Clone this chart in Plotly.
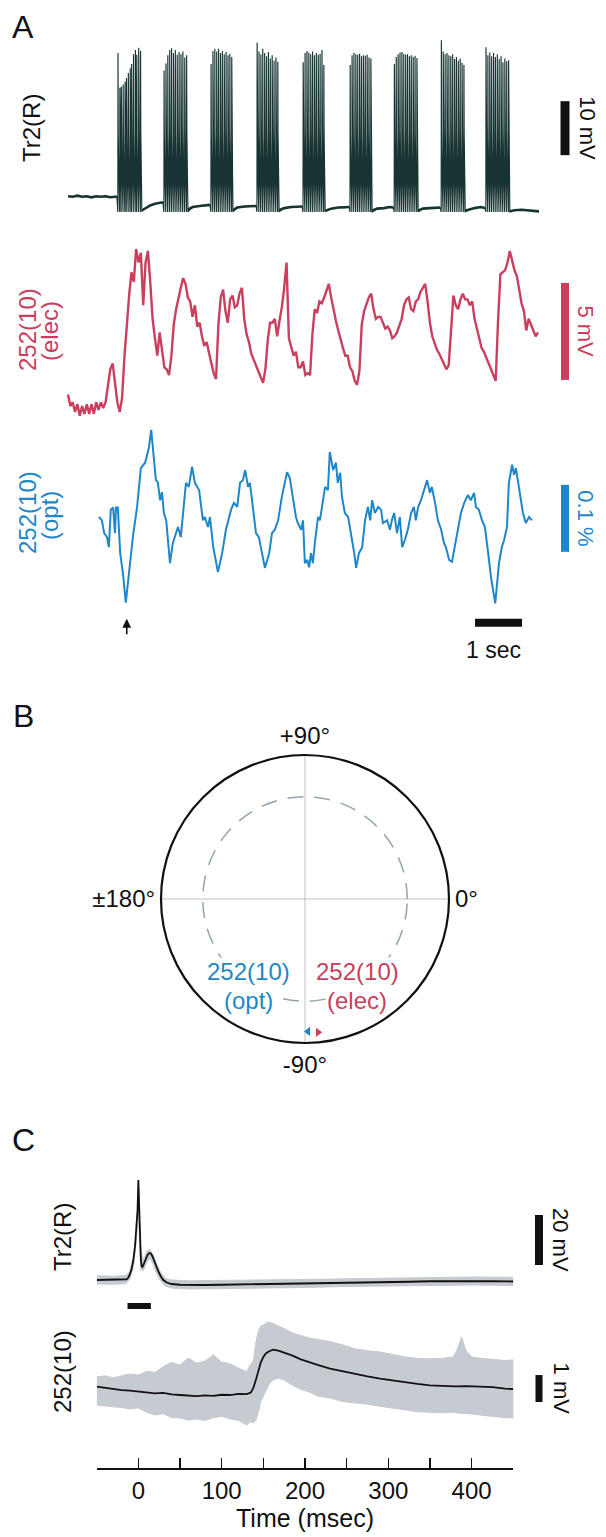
import numpy as np
import plotly.graph_objects as go

W, H = 606, 1537
FONT = "Liberation Sans, Arial, Helvetica, sans-serif"
BLACK = "#111111"
TRACE_BLACK = "#173433"
RED = "#c8405e"
BLUE = "#1f86c8"
GRAY = "#c6cbd1"

# ======================= DATA =======================
# ---- Panel A : Tr2(R) intracellular (mV), bursts of spikes ----
BURST_SPIKE_T = [
    [1.06, 1.10, 1.13, 1.17, 1.21, 1.24, 1.28, 1.32, 1.35, 1.39, 1.43, 1.46, 1.50, 1.54],
    [2.04, 2.08, 2.12, 2.16, 2.20, 2.24, 2.28, 2.32, 2.36, 2.40, 2.44, 2.48, 2.52],
    [3.04, 3.08, 3.12, 3.16, 3.20, 3.24, 3.28, 3.32, 3.36, 3.40, 3.44, 3.48],
    [4.02, 4.06, 4.10, 4.14, 4.18, 4.22, 4.26, 4.30, 4.34, 4.38, 4.42, 4.46],
    [5.00, 5.04, 5.08, 5.12, 5.16, 5.20, 5.24, 5.28, 5.32, 5.36, 5.40, 5.44],
    [6.00, 6.04, 6.08, 6.12, 6.16, 6.20, 6.24, 6.28, 6.32, 6.36, 6.40, 6.44],
    [6.94, 6.98, 7.02, 7.06, 7.10, 7.14, 7.18, 7.22, 7.26, 7.30, 7.34, 7.38, 7.42],
    [7.94, 7.98, 8.02, 8.06, 8.10, 8.14, 8.18, 8.22, 8.26, 8.30, 8.34, 8.38, 8.42],
    [8.89, 8.93, 8.97, 9.01, 9.05, 9.09, 9.13, 9.17, 9.21, 9.25, 9.29, 9.33, 9.37],
]
BURST_SPIKE_PEAK = [
    [27.2, 20.8, 21.0, 21.4, 21.9, 22.6, 23.5, 24.4, 25.2, 27.0, 27.8, 26.9, 28.2, 27.6],
    [24.0, 25.3, 26.8, 27.8, 28.1, 27.2, 27.8, 26.9, 27.4, 27.0, 27.5, 26.4, 26.8],
    [25.2, 27.6, 28.0, 27.5, 28.0, 27.2, 27.6, 27.0, 27.4, 26.8, 27.1, 26.5],
    [29.1, 27.5, 27.0, 28.0, 27.2, 26.6, 27.4, 26.2, 26.8, 25.8, 26.4, 25.6],
    [25.5, 27.2, 27.6, 27.3, 27.0, 27.5, 26.8, 27.2, 26.9, 27.1, 27.8, 25.0],
    [25.0, 26.8, 27.2, 27.0, 26.9, 27.1, 26.6, 26.8, 26.7, 26.9, 26.4, 26.2],
    [25.2, 26.5, 27.0, 27.3, 27.4, 27.1, 26.9, 27.0, 26.6, 26.8, 26.5, 26.7, 26.3],
    [29.6, 27.5, 27.0, 27.2, 26.8, 26.6, 27.0, 26.1, 26.5, 25.8, 26.2, 25.4, 25.0],
    [28.3, 26.8, 27.3, 26.6, 27.2, 26.5, 27.0, 26.1, 26.6, 25.5, 26.2, 25.7, 25.9],
]
SPIKE_TROUGH_MV = -2.2       # trough between spikes
SPIKE_SHOULDER_MV = 12.5     # fast repolarisation level after each spike
SPIKE_AHP_MID_MV = 4.0       # intermediate point of the slow decay
BASE_T = [0.00, 0.10, 0.20, 0.30, 0.40, 0.50, 0.60, 0.70, 0.80, 0.90, 1.00, 1.04,
          1.58, 1.65, 1.75, 1.85, 1.95, 2.02,
          2.55, 2.65, 2.80, 2.95, 3.02,
          3.51, 3.60, 3.75, 3.90, 4.00,
          4.49, 4.60, 4.75, 4.90, 4.98,
          5.48, 5.60, 5.75, 5.90, 5.98,
          6.47, 6.58, 6.72, 6.85, 6.92,
          7.45, 7.55, 7.70, 7.85, 7.92,
          8.45, 8.55, 8.65, 8.78, 8.87,
          9.40, 9.50, 9.65, 9.80, 9.93, 10.02]
BASE_V = [0.7, 0.6, 0.8, 0.6, 0.7, 0.5, 0.7, 0.6, 0.7, 0.5, 0.6, 0.6,
          -1.9, -1.5, -1.0, -0.7, -0.5, -0.4,
          -1.8, -1.3, -1.1, -0.9, -0.9,
          -1.9, -1.4, -1.2, -1.1, -1.1,
          -1.9, -1.5, -1.3, -1.2, -1.2,
          -2.0, -1.6, -1.4, -1.4, -1.3,
          -2.0, -1.6, -1.5, -1.3, -1.4,
          -2.0, -1.6, -1.5, -1.5, -1.4,
          -2.0, -1.7, -1.5, -1.3, -1.5,
          -2.1, -1.9, -1.8, -1.9, -2.0, -2.1]

# ---- Panel A : 252(10) electrode (mV), sampled every RED_DT s from t = 0 ----
RED_DT = 0.05
RED_V = [0.8, 0.2, 0.4, -0.1, 0.3, -0.3, 0.2, -0.2, 0.3, -0.2,
         0.3, -0.2, 0.4, 0.0, 0.4, 0.1, 0.4, 1.3, 2.1, 2.4,
         1.3, 0.4, -0.1, 0.6, 2.7, 4.4, 5.9, 7.1, 6.6, 8.3,
         7.6, 8.1, 5.4, 7.6, 8.2, 6.6, 4.7, 3.7, 2.8, 4.0,
         3.0, 2.2, 2.1, 1.8, 2.8, 4.4, 5.2, 5.8, 6.3, 6.8,
         6.5, 5.8, 5.6, 4.8, 5.4, 4.3, 4.5, 3.8, 3.3, 3.5,
         2.9, 2.4, 1.9, 1.6, 4.4, 5.8, 6.2, 5.1, 4.5, 5.7,
         5.9, 5.3, 5.4, 6.0, 6.3, 4.7, 3.9, 3.5, 2.9, 2.6,
         2.3, 2.1, 1.7, 1.4, 2.1, 3.6, 4.5, 4.5, 4.7, 3.8,
         4.6, 5.3, 6.3, 7.6, 3.7, 3.2, 2.8, 3.0, 2.2, 2.2,
         2.5, 1.8, 1.9, 1.8, 3.9, 5.2, 5.0, 5.6, 5.5, 5.8,
         6.1, 6.5, 5.8, 5.1, 4.6, 4.1, 3.6, 3.2, 2.8, 2.8,
         2.2, 2.0, 1.5, 1.3, 2.0, 4.4, 5.1, 5.5, 5.8, 6.0,
         5.2, 4.7, 4.8, 4.8, 4.5, 4.2, 4.3, 4.1, 3.7, 3.8,
         4.0, 4.4, 4.7, 5.4, 5.7, 5.8, 5.2, 5.1, 5.6, 5.7,
         6.1, 6.3, 6.5, 5.6, 4.5, 3.8, 3.4, 3.1, 2.9, 2.6,
         2.4, 2.1, 2.3, 3.9, 5.9, 5.4, 5.2, 5.7, 6.0, 5.7,
         5.7, 5.4, 5.6, 4.7, 4.2, 3.6, 3.2, 3.0, 2.7, 2.5,
         2.1, 1.8, 1.5, 4.6, 7.0, 7.1, 7.2, 7.6, 8.2, 7.7,
         7.2, 6.9, 6.2, 5.5, 5.1, 4.1, 4.7, 4.4, 4.1, 3.8,
         4.0]

# ---- Panel A : 252(10) optical (dF/F, %) ----
BLUE_T = [0.66, 0.72, 0.77, 0.83, 0.87, 0.91, 0.96, 1.00, 1.02, 1.06, 1.11, 1.17, 1.23, 1.30, 1.38,
          1.47, 1.55, 1.64, 1.72, 1.77, 1.81, 1.87, 1.91, 1.96, 2.00, 2.04, 2.09, 2.17, 2.23, 2.30,
          2.34, 2.40, 2.47, 2.51, 2.57, 2.64, 2.70, 2.79, 2.87, 2.91, 2.98, 3.02, 3.09, 3.15, 3.19,
          3.28, 3.36, 3.43, 3.47, 3.53, 3.60, 3.66, 3.72, 3.77, 3.83, 3.87, 3.94, 4.00, 4.06, 4.13,
          4.19, 4.28, 4.34, 4.40, 4.47, 4.55, 4.66, 4.72, 4.79, 4.85, 4.89, 4.96, 5.00, 5.04, 5.09,
          5.13, 5.17, 5.21, 5.26, 5.32, 5.36, 5.43, 5.47, 5.53, 5.57, 5.64, 5.70, 5.74, 5.79, 5.83,
          5.89, 5.96, 6.02, 6.09, 6.13, 6.19, 6.26, 6.32, 6.38, 6.43, 6.47, 6.53, 6.60, 6.66, 6.70,
          6.79, 6.85, 6.89, 6.94, 7.00, 7.06, 7.11, 7.17, 7.23, 7.30, 7.36, 7.40, 7.45, 7.51, 7.57,
          7.64, 7.70, 7.74, 7.81, 7.87, 7.94, 8.00, 8.04, 8.11, 8.17, 8.23, 8.30, 8.36, 8.43, 8.51,
          8.57, 8.64, 8.68, 8.74, 8.81, 8.87, 8.94, 9.00, 9.09, 9.17, 9.23, 9.28, 9.34, 9.38, 9.45,
          9.49, 9.53, 9.62, 9.68, 9.74, 9.81, 9.87]
BLUE_V = [0.000, -0.005, -0.024, -0.030, -0.045, 0.011, 0.014, -0.024, 0.014, 0.014, -0.054, -0.084, -0.128, -0.084, -0.030,
          0.015, 0.073, 0.081, 0.103, 0.130, 0.096, 0.055, 0.052, 0.025, 0.037, 0.006, -0.005, -0.069, -0.039, -0.024,
          -0.015, -0.030, 0.021, 0.051, 0.045, 0.075, 0.051, 0.040, -0.005, 0.000, -0.015, 0.000, -0.045, -0.069, -0.082,
          -0.054, -0.019, 0.000, 0.011, 0.021, 0.015, 0.051, 0.055, 0.070, 0.045, 0.051, 0.015, -0.024, -0.030, -0.054,
          -0.076, -0.054, -0.024, -0.019, -0.005, 0.030, 0.067, 0.058, 0.025, 0.000, -0.009, -0.019, -0.005, -0.069, -0.064,
          -0.075, -0.054, -0.069, -0.034, 0.000, -0.005, 0.025, 0.045, 0.040, 0.097, 0.070, 0.081, 0.051, 0.066, 0.030,
          0.006, 0.000, -0.024, -0.054, -0.076, -0.054, -0.045, -0.005, 0.015, -0.005, 0.025, 0.006, 0.015, 0.011, -0.009,
          -0.005, -0.019, -0.005, 0.006, -0.024, 0.000, -0.045, -0.034, -0.019, 0.006, 0.015, -0.005, 0.015, 0.025, 0.040,
          0.055, 0.036, 0.045, 0.021, -0.005, -0.019, -0.039, -0.045, -0.064, -0.067, -0.045, -0.019, 0.006, 0.021, 0.033,
          0.025, 0.036, 0.015, 0.011, -0.005, -0.015, -0.054, -0.090, -0.129, -0.069, -0.045, -0.034, -0.015, 0.051, 0.078,
          0.063, 0.073, 0.036, 0.006, -0.009, 0.000, -0.005]

# scale bars of panel A (value, start)
SCALE_BLACK_MV, SCALE_BLACK_START = 10, 8.3
SCALE_RED_MV, SCALE_RED_START = 5, 1.55
SCALE_BLUE_PCT, SCALE_BLUE_START = 0.1, -0.052
SCALE_TIME_S, SCALE_TIME_START = 1, 8.66
ARROW_T_S = 1.25

# ---- Panel B : phase plot ----
PHASE_LABELS = ["252(10) (opt)", "252(10) (elec)"]
PHASE_DEG = [-88.7, -84.4]
PHASE_R = [0.92, 0.93]
SIG_CIRCLE_R = 0.71
ANGLE_TICKS = [0, 90, 180, 270]
ANGLE_TEXT = ["0°", "+90°", "±180°", "-90°"]

# ---- Panel C : spike-triggered averages ----
C1_T = [-50, -40, -30, -20, -14, -12, -10, -8, -6, -4, -2, -1, 0, 1, 2, 3, 4, 5, 7, 9,
        11, 13, 15, 17, 19, 21, 24, 27, 30, 34, 40, 50, 60, 80, 100, 125, 150, 175, 200, 225,
        250, 275, 300, 325, 350, 375, 400, 425, 450]
C1_V = [0.0, 0.1, 0.0, 0.1, 0.3, 1.0, 2.4, 4.6, 8.0, 13.5, 21.0, 28.0, 40.0, 27.0, 15.0, 8.0, 5.4, 5.2, 6.8, 8.6,
        10.0, 10.8, 10.6, 9.4, 7.6, 5.8, 3.4, 1.4, 0.0, -1.0, -1.6, -1.9, -2.0, -2.0, -1.9, -1.8, -1.6, -1.5, -1.4, -1.2,
        -1.0, -0.9, -0.8, -0.7, -0.5, -0.4, -0.4, -0.5, -0.6]
C1_ENV_T = [-50, -30, -15, -10, -6, -3, 0, 3, 6, 10, 14, 18, 22, 27, 32, 40, 60, 100, 150, 200, 250, 300, 350, 400, 450]
C1_HI = [1.7, 1.5, 1.8, 3.5, 9.5, 18, 30, 12, 8.0, 11.5, 12.2, 10.0, 6.5, 3.0, 0.6, 0.0, -0.3, -0.2, 0.0, 0.2, 0.5, 0.8, 1.0, 1.2, 1.1]
C1_LO = [-1.6, -1.7, -1.5, 0.5, 5.0, 14, 26, 4.0, 3.8, 7.0, 8.8, 6.0, 2.5, -0.5, -2.4, -3.2, -3.6, -3.6, -3.2, -3.0, -2.6, -2.4, -2.1, -2.0, -2.2]

C2_T = [-50, -40, -30, -20, -10, 0, 10, 20, 30, 40, 50, 60, 70, 80, 90, 100, 110, 120, 130, 135,
        138, 141, 144, 147, 150, 153, 157, 162, 168, 175, 185, 195, 205, 215, 230, 245, 260, 275, 290, 305,
        320, 335, 350, 365, 380, 395, 410, 425, 440, 450]
C2_V = [0.05, 0.0, -0.04, -0.08, -0.10, -0.14, -0.16, -0.20, -0.18, -0.24, -0.26, -0.28, -0.30, -0.27, -0.29, -0.25, -0.26, -0.22, -0.23, -0.17,
        0.00, 0.30, 0.66, 0.95, 1.15, 1.28, 1.36, 1.42, 1.38, 1.31, 1.20, 1.06, 0.95, 0.86, 0.72, 0.62, 0.53, 0.43, 0.35, 0.28,
        0.20, 0.15, 0.10, 0.08, 0.06, 0.07, 0.05, 0.03, -0.02, -0.04]
C2_ENV_T = [-50, -40, -30, -20, -10, 0, 10, 20, 30, 40, 50, 60, 70, 80, 90, 100, 110, 120, 130, 135,
            138, 141, 144, 147, 150, 153, 157, 162, 168, 175, 185, 195, 205, 215, 230, 245, 260, 275, 290, 305,
            320, 335, 350, 365, 378, 383, 388, 393, 400, 410, 425, 440, 450]
C2_HI = [0.41, 0.45, 0.38, 0.44, 0.52, 0.48, 0.62, 0.58, 0.80, 0.95, 0.85, 1.11, 0.92, 1.00, 1.22, 0.96, 0.90, 0.74, 0.60, 0.90,
         1.00, 1.70, 2.10, 2.30, 2.33, 2.40, 2.44, 2.38, 2.30, 2.20, 2.04, 1.95, 1.85, 1.80, 1.72, 1.60, 1.45, 1.38, 1.33, 1.25,
         1.15, 1.10, 1.08, 1.10, 1.15, 1.45, 1.89, 1.40, 1.15, 1.10, 1.05, 1.02, 1.04]
C2_LO = [-0.63, -0.66, -0.70, -0.72, -0.78, -0.74, -0.90, -1.00, -0.95, -1.10, -1.11, -1.19, -1.15, -1.20, -1.10, -1.05, -1.15, -1.20, -1.37, -1.25,
         -1.30, -1.20, -0.90, -0.50, -0.30, -0.10, 0.15, 0.30, 0.37, 0.30, 0.10, -0.05, -0.15, -0.30, -0.37, -0.50, -0.55, -0.60, -0.68, -0.75,
         -0.81, -0.88, -0.90, -0.92, -0.90, -0.92, -0.95, -0.94, -0.96, -1.00, -1.05, -1.10, -1.11]

STIM_BAR_MS = [-13, 15]
STIM_BAR_MV = -10.4
SCALE_C1_MV, SCALE_C1_START = 20, 6
SCALE_C2_MV, SCALE_C2_START = 1, -0.52
TIME_TICKS = [-50, 0, 50, 100, 150, 200, 250, 300, 350, 400, 450]
TIME_TICK_TEXT = ["", "0", "", "100", "", "200", "", "300", "", "400", ""]

# ======================= LAYOUT HELPERS =======================
def xdom(p0, p1):
    return [p0 / W, p1 / W]


def ydom(p0, p1):
    return [1 - p1 / H, 1 - p0 / H]


def xrng(p0, p1, pz, s):
    return [(p0 - pz) / s, (p1 - pz) / s]


def yrng(p0, p1, pz, s):
    return [(pz - p1) / s, (pz - p0) / s]


# panel A scales (pixel of zero, pixels per unit)
AX = (60, 600, 68, 47.0)
AY_BLACK = (28, 228, 200, 5.4)
AY_RED = (232, 432, 410, 19.4)
AY_BLUE = (420, 640, 517, 670.0)
A_SCALEBAR_T = (565 - AX[2]) / AX[3]
# panel C scales
CX_TICK = (96.7, 513.3)
CX_HID = (90, 600, 138.4, 0.8332)
CY1 = (1150, 1318, 1280, 2.5)
CY2 = (1318, 1440, 1388, 27.0)
C_SCALEBAR_T = (539 - CX_HID[2]) / CX_HID[3]

fig = go.Figure()

# ---------- Panel A traces ----------
pts = list(zip(BASE_T, BASE_V))
for ts, ps in zip(BURST_SPIKE_T, BURST_SPIKE_PEAK):
    for t, p in zip(ts, ps):
        pts.append((t, SPIKE_TROUGH_MV))
        pts.append((t + 0.004, p))
        pts.append((t + 0.009, SPIKE_SHOULDER_MV))
        pts.append((t + 0.022, SPIKE_AHP_MID_MV))
    pts.append((ts[-1] + 0.032, SPIKE_TROUGH_MV))
pts.sort()
fig.add_trace(go.Scatter(x=[p[0] for p in pts], y=[p[1] for p in pts], mode="lines",
                         line=dict(color=TRACE_BLACK, width=1.15), xaxis="x", yaxis="y",
                         name="Tr2(R)", hoverinfo="skip"))
# thicker resting membrane segments between bursts
seg_x, seg_y = [], []
for i, (t, v) in enumerate(zip(BASE_T, BASE_V)):
    if i > 0 and t - BASE_T[i - 1] > 0.2:
        seg_x.append(None)
        seg_y.append(None)
    seg_x.append(t)
    seg_y.append(v)
fig.add_trace(go.Scatter(x=seg_x, y=seg_y, mode="lines", line=dict(color=TRACE_BLACK, width=2.6),
                         xaxis="x", yaxis="y", connectgaps=False, hoverinfo="skip"))

red_t = np.arange(len(RED_V)) * RED_DT
fig.add_trace(go.Scatter(x=red_t, y=RED_V, mode="lines", line=dict(color=RED, width=2.4),
                         xaxis="x", yaxis="y2", name="252(10) elec", hoverinfo="skip"))
fig.add_trace(go.Scatter(x=BLUE_T, y=BLUE_V, mode="lines", line=dict(color=BLUE, width=2.0),
                         xaxis="x", yaxis="y3", name="252(10) opt", hoverinfo="skip"))

# scale bars A
for yax, start, val, col, w in [("y", SCALE_BLACK_START, SCALE_BLACK_MV, BLACK, 9),
                                ("y2", SCALE_RED_START, SCALE_RED_MV, RED, 8),
                                ("y3", SCALE_BLUE_START, SCALE_BLUE_PCT, BLUE, 8)]:
    fig.add_trace(go.Scatter(x=[A_SCALEBAR_T, A_SCALEBAR_T], y=[start, start + val], mode="lines",
                             line=dict(color=col, width=w), xaxis="x", yaxis=yax, hoverinfo="skip"))
TIME_BAR_Y = -0.158
fig.add_trace(go.Scatter(x=[SCALE_TIME_START, SCALE_TIME_START + SCALE_TIME_S], y=[TIME_BAR_Y, TIME_BAR_Y],
                         mode="lines", line=dict(color=BLACK, width=8), xaxis="x", yaxis="y3", hoverinfo="skip"))

# ---------- Panel B (polar) ----------
fig.add_trace(go.Scatterpolar(r=[PHASE_R[0]], theta=[PHASE_DEG[0]], mode="markers", subplot="polar",
                              marker=dict(symbol="triangle-left", size=8, color=BLUE), name=PHASE_LABELS[0],
                              hoverinfo="skip"))
fig.add_trace(go.Scatterpolar(r=[PHASE_R[1]], theta=[PHASE_DEG[1]], mode="markers", subplot="polar",
                              marker=dict(symbol="triangle-right", size=8, color=RED), name=PHASE_LABELS[1],
                              hoverinfo="skip"))

# ---------- Panel C traces ----------
fig.add_trace(go.Scatter(x=C1_ENV_T + C1_ENV_T[::-1], y=C1_HI + C1_LO[::-1], fill="toself", mode="lines",
                         line=dict(color=GRAY, width=1), fillcolor=GRAY, xaxis="x2", yaxis="y4", hoverinfo="skip"))
fig.add_trace(go.Scatter(x=C1_T, y=C1_V, mode="lines", line=dict(color=BLACK, width=1.8),
                         xaxis="x2", yaxis="y4", hoverinfo="skip"))
fig.add_trace(go.Scatter(x=C2_ENV_T + C2_ENV_T[::-1], y=C2_HI + C2_LO[::-1], fill="toself", mode="lines",
                         line=dict(color=GRAY, width=1), fillcolor=GRAY, xaxis="x2", yaxis="y5", hoverinfo="skip"))
fig.add_trace(go.Scatter(x=C2_T, y=C2_V, mode="lines", line=dict(color=BLACK, width=1.8),
                         xaxis="x2", yaxis="y5", hoverinfo="skip"))
fig.add_trace(go.Scatter(x=STIM_BAR_MS, y=[STIM_BAR_MV, STIM_BAR_MV], mode="lines",
                         line=dict(color=BLACK, width=6), xaxis="x2", yaxis="y4", hoverinfo="skip"))
fig.add_trace(go.Scatter(x=[C_SCALEBAR_T, C_SCALEBAR_T], y=[SCALE_C1_START, SCALE_C1_START + SCALE_C1_MV],
                         mode="lines", line=dict(color=BLACK, width=8), xaxis="x3", yaxis="y4", hoverinfo="skip"))
fig.add_trace(go.Scatter(x=[C_SCALEBAR_T, C_SCALEBAR_T], y=[SCALE_C2_START, SCALE_C2_START + SCALE_C2_MV],
                         mode="lines", line=dict(color=BLACK, width=7), xaxis="x3", yaxis="y5", hoverinfo="skip"))

hidden = dict(visible=False, showgrid=False, zeroline=False, fixedrange=True)

fig.update_layout(
    width=W, height=H, margin=dict(l=0, r=0, t=0, b=0), template="none",
    paper_bgcolor="white", plot_bgcolor="rgba(0,0,0,0)", showlegend=False,
    font=dict(family=FONT, size=24, color=BLACK),
    xaxis=dict(domain=xdom(AX[0], AX[1]), range=xrng(*AX), anchor="y", **hidden),
    yaxis=dict(domain=ydom(AY_BLACK[0], AY_BLACK[1]), range=yrng(*AY_BLACK), anchor="x", **hidden),
    yaxis2=dict(domain=ydom(AY_RED[0], AY_RED[1]), range=yrng(*AY_RED), anchor="x", **hidden),
    yaxis3=dict(domain=ydom(AY_BLUE[0], AY_BLUE[1]), range=yrng(*AY_BLUE), anchor="x", **hidden),
    xaxis2=dict(domain=xdom(*CX_TICK), range=[TIME_TICKS[0], TIME_TICKS[-1]], anchor="free",
                position=1 - 1468 / H, showline=True, linecolor=BLACK, linewidth=1.5,
                ticks="inside", ticklen=10, tickwidth=1.5, tickcolor=BLACK,
                tickvals=TIME_TICKS, ticktext=TIME_TICK_TEXT, tickfont=dict(size=24, color=BLACK),
                ticklabelstandoff=1, showgrid=False, zeroline=False, fixedrange=True, automargin=False,
                title=dict(text="Time (msec)", font=dict(size=25, color=BLACK), standoff=5)),
    xaxis3=dict(domain=xdom(CX_HID[0], CX_HID[1]), range=xrng(*CX_HID), anchor="y5", **hidden),
    yaxis4=dict(domain=ydom(CY1[0], CY1[1]), range=yrng(*CY1), anchor="x2", **hidden),
    yaxis5=dict(domain=ydom(CY2[0], CY2[1]), range=yrng(*CY2), anchor="x2", **hidden),
    polar=dict(
        domain=dict(x=xdom(305 - 144, 305 + 144), y=ydom(899 - 144, 899 + 144)),
        bgcolor="white",
        angularaxis=dict(rotation=0, direction="counterclockwise", tickvals=ANGLE_TICKS, ticktext=ANGLE_TEXT,
                         showline=True, linecolor=BLACK, linewidth=2.2, showgrid=True, gridcolor="#cbbcbc",
                         gridwidth=1, ticks="", tickfont=dict(size=24, color=BLACK)),
        radialaxis=dict(range=[0, 1], tickvals=[SIG_CIRCLE_R], showticklabels=False, showline=False, ticks="",
                        showgrid=True, gridcolor="#93a3ae", gridwidth=1.5, griddash="16px,11px"),
    ),
)


def ann(text, px, py, size=24, color=BLACK, angle=0, bg=None):
    d = dict(text=text, x=px / W, y=1 - py / H, xref="paper", yref="paper", showarrow=False,
             textangle=angle, font=dict(size=size, color=color, family=FONT),
             xanchor="center", yanchor="middle")
    if bg:
        d.update(bgcolor=bg, borderpad=0)
    return d


annotations = [
    ann("A", 23, 27, size=32), ann("B", 23, 716, size=32), ann("C", 23, 1140, size=32),
    ann("Tr2(R)", 31, 128, angle=-90),
    ann("252(10)", 27, 330, color=RED, angle=-90), ann("(elec)", 49, 331, color=RED, angle=-90),
    ann("252(10)", 27, 513, color=BLUE, angle=-90), ann("(opt)", 49, 515, color=BLUE, angle=-90),
    ann("252(10)", 248, 971, color=BLUE, bg="white"), ann("(opt)", 249, 1001, color=BLUE, bg="white"),
    ann("252(10)", 357, 971, color=RED, bg="white"), ann("(elec)", 357, 1001, color=RED, bg="white"),
    ann("Tr2(R)", 62, 1237, angle=-90), ann("252(10)", 62, 1372, angle=-90),
]
# scale bar labels (attached to the bars through the axes)
annotations += [
    dict(text="10 mV", x=A_SCALEBAR_T, y=SCALE_BLACK_START + SCALE_BLACK_MV / 2, xref="x", yref="y",
         showarrow=False, textangle=90, xshift=23, font=dict(size=22, color=BLACK)),
    dict(text="5 mV", x=A_SCALEBAR_T, y=SCALE_RED_START + SCALE_RED_MV / 2, xref="x", yref="y2",
         showarrow=False, textangle=90, xshift=21, font=dict(size=22, color=RED)),
    dict(text="0.1 %", x=A_SCALEBAR_T, y=SCALE_BLUE_START + SCALE_BLUE_PCT / 2, xref="x", yref="y3",
         showarrow=False, textangle=90, xshift=21, font=dict(size=22, color=BLUE)),
    dict(text="1 sec", x=SCALE_TIME_START + SCALE_TIME_S / 2 - 0.1, y=TIME_BAR_Y, xref="x", yref="y3",
         showarrow=False, yshift=-27, font=dict(size=23, color=BLACK)),
    dict(text="20 mV", x=C_SCALEBAR_T, y=SCALE_C1_START + SCALE_C1_MV / 2, xref="x3", yref="y4",
         showarrow=False, textangle=90, xshift=22, font=dict(size=22, color=BLACK)),
    dict(text="1 mV", x=C_SCALEBAR_T, y=SCALE_C2_START + SCALE_C2_MV / 2, xref="x3", yref="y5",
         showarrow=False, textangle=90, xshift=22, font=dict(size=22, color=BLACK)),
    dict(text="", x=ARROW_T_S, y=-0.152, xref="x", yref="y3", showarrow=True, ax=0, ay=17,
         arrowhead=2, arrowsize=1.1, arrowwidth=1.6, arrowcolor=BLACK),
]
fig.update_layout(annotations=annotations)

fig.write_html("out.html", config={"displayModeBar": False, "staticPlot": True},
               post_script="document.body.style.margin='0';document.body.style.padding='0';"
                           "document.body.style.overflow='hidden';")
